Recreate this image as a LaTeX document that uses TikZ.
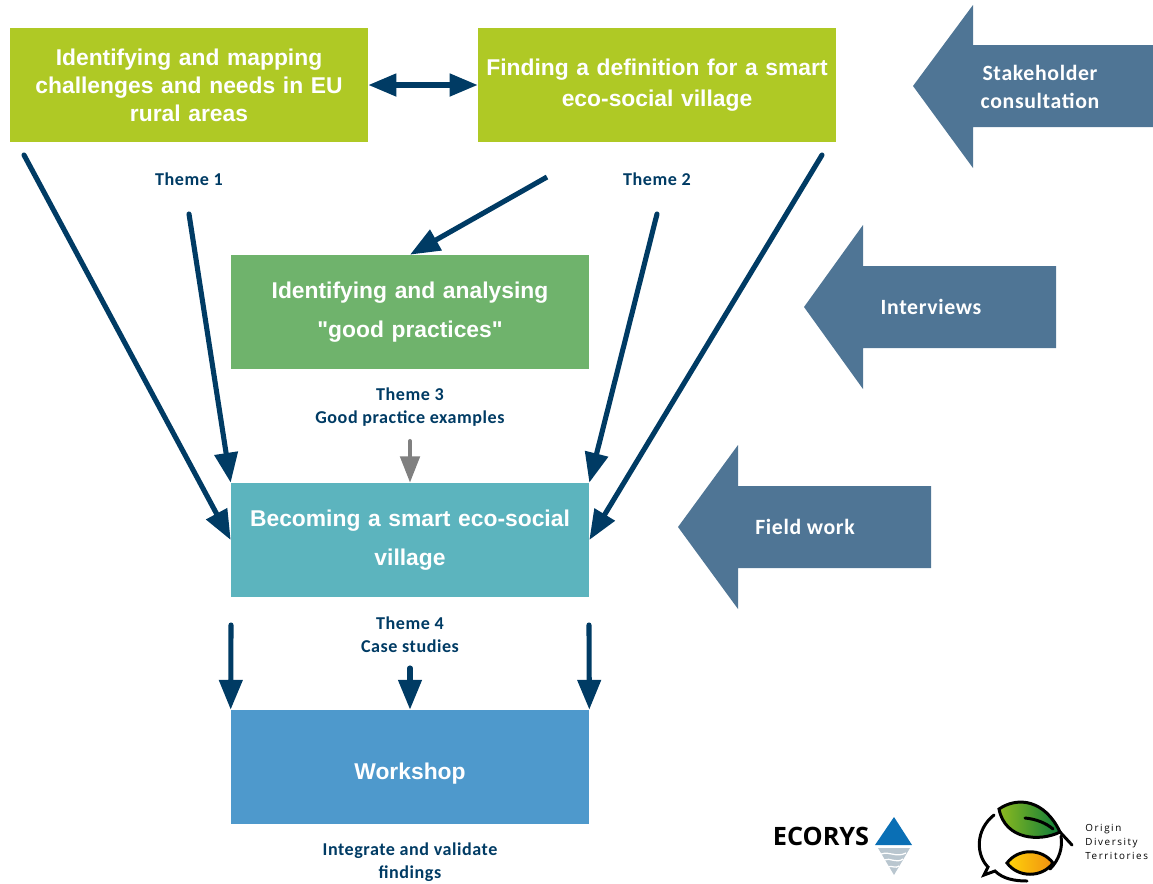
\documentclass[tikz,border=0pt]{standalone}
\usepackage{fontspec}
\newfontfamily\boxfont{Liberation Sans}
\newfontfamily\labelfont[LetterSpace=3]{Carlito}
\newfontfamily\logofont[LetterSpace=16]{Open Sans}
\newfontfamily\ecorysfont{Open Sans}
\usetikzlibrary{arrows.meta}

\definecolor{limebox}{HTML}{AFC925}
\definecolor{greenbox}{HTML}{6FB36C}
\definecolor{tealbox}{HTML}{5CB4BE}
\definecolor{bluebox}{HTML}{4E99CC}
\definecolor{slatearrow}{HTML}{4F7595}
\definecolor{navyline}{HTML}{003B64}
\definecolor{ecorysblue}{HTML}{0A6FB5}
\definecolor{ecorysgrey}{HTML}{B9C6CF}
\definecolor{leaflight}{HTML}{8DBB1F}
\definecolor{leafdark}{HTML}{0B7B3A}
\definecolor{fruitlight}{HTML}{FFD40A}
\definecolor{fruitdark}{HTML}{F09010}

\tikzset{
  themebox/.style={minimum width=7.16cm, minimum height=2.28cm, text width=6.9cm, align=center,
    text=white, font=\fontsize{13}{16}\selectfont\boxfont\bfseries},
  themelabel/.style={text=navyline, align=center, font=\fontsize{10.3}{13.2}\selectfont\labelfont\bfseries},
  slatelabel/.style={text=white, align=center, font=\fontsize{12.4}{16}\selectfont\labelfont\bfseries},
  link/.style={navyline, line width=2.9pt, line cap=round, -{Triangle[length=17pt,width=13pt]}},
  logoline/.style={black, line width=1.7pt, line cap=round},
}

\begin{document}
\begin{tikzpicture}[x=0.02cm, y=-0.02cm]
    \useasboundingbox (0,0) rectangle (1153,883);

    \node[themebox, fill=limebox] (mapping) at (189,85) {Identifying and mapping\\challenges and needs in EU\\rural areas};
    \node[themebox, fill=limebox, font=\fontsize{13}{18}\selectfont\boxfont\bfseries] (definition) at (657,85) {Finding a definition for a smart\\eco-social village};
    \node[themebox, fill=greenbox, font=\fontsize{13}{21.8}\selectfont\boxfont\bfseries] (practices) at (410,312) {Identifying and analysing\\"good practices"};
    \node[themebox, fill=tealbox, font=\fontsize{13}{21.8}\selectfont\boxfont\bfseries] (becoming) at (410,540) {Becoming a smart eco-social\\village};
    \node[themebox, fill=bluebox] (workshop) at (410,767) {\rule{0pt}{17pt}Workshop};

    \node[themelabel] (theme1) at (189,179) {Theme 1};
    \node[themelabel] (theme2) at (657,179) {Theme 2};
    \node[themelabel] (theme3) at (410,407) {Theme 3\\Good practice examples};
    \node[themelabel] (theme4) at (410,635) {Theme 4\\Case studies};
    \node[themelabel] (validate) at (410,862.5) {Integrate and validate\\findings};

    % free ends of the connectors
    \coordinate (mapfoot) at (24,155);
    \coordinate (themefoot1) at (189,214);
    \coordinate (deffoot) at (547,177);
    \coordinate (themefoot2) at (657,214);
    \coordinate (deffoot2) at (822,155);
    \coordinate (greyfoot) at (410,441);
    \coordinate (casefoot1) at (231,625);
    \coordinate (casefoot2) at (410,668);
    \coordinate (casefoot3) at (589,625);

    \draw[navyline, line width=2.9pt, {Triangle[length=16pt,width=12.5pt]}-{Triangle[length=16pt,width=12.5pt]}] (mapping.east) -- (definition.west);
    \draw[link] (mapfoot) -- (becoming.west);
    \draw[link] (themefoot1) -- (becoming.north west);
    \draw[link, line cap=butt] (deffoot) -- (practices.north);
    \draw[link] (themefoot2) -- (becoming.north east);
    \draw[link] (deffoot2) -- (becoming.east);
    \draw[gray, line width=2.3pt, line cap=round, -{Triangle[length=15pt,width=11pt]}] (greyfoot) -- (becoming.north);
    \draw[link] (casefoot1) -- (workshop.north west);
    \draw[link] (casefoot2) -- (workshop.north);
    \draw[link] (casefoot3) -- (workshop.north east);

    \fill[slatearrow] (913,86) -- (973,5) -- (973,45) -- (1153,45) -- (1153,127) -- (973,127) -- (973,168) -- cycle;
    \fill[slatearrow] (804,307) -- (863,225) -- (863,266) -- (1056,266) -- (1056,348) -- (863,348) -- (863,389) -- cycle;
    \fill[slatearrow] (678,527) -- (738,445) -- (738,486) -- (931,486) -- (931,568) -- (738,568) -- (738,609) -- cycle;
    \node[slatelabel] (stakeholder) at (1040,87) {Stakeholder\\consultation};
    \node[slatelabel] (interviews) at (931,307) {Interviews};
    \node[slatelabel] (fieldwork) at (805,527) {Field work};

    % Ecorys logo
    \node[inner sep=0pt, font=\fontsize{14.4}{14}\selectfont\ecorysfont\bfseries] (ecorys) at (821,836) {ECORYS};
    \fill[ecorysblue] (875,845) -- (894,817) -- (912,845) -- cycle;
    \fill[ecorysgrey] (878,848) -- (910,848) -- (894,875) -- cycle;
    \draw[white, line width=0.7pt] (881,854) .. controls (890,851) and (896,858) .. (906,853);
    \draw[white, line width=0.7pt] (884,860) .. controls (890,857) and (896,864) .. (903,859);
    \draw[white, line width=0.7pt] (888,867) .. controls (891,865) and (896,869) .. (899,866);

    % Origin logo
    \draw[logoline] (994,815) .. controls (975,830) and (976,855) .. (988,867)
      -- (984,875) -- (995,871) .. controls (1003,879) and (1015,881) .. (1027,881);
    \draw[logoline] (1061,836) .. controls (1063,848) and (1059,860) .. (1050,869);
    \draw[logoline, left color=leaflight, right color=leafdark] (999,809)
      .. controls (1018,796) and (1045,800) .. (1060,832) .. controls (1040,842) and (1005,840) .. (999,809) -- cycle;
    \draw[logoline] (1060,832) -- (1072,845);
    \draw[logoline] (1025,818) .. controls (1036,819) and (1046,823) .. (1053,829);
    \draw[logoline, left color=fruitlight, right color=fruitdark] (1007,863)
      .. controls (1018,848) and (1042,848) .. (1053,863) .. controls (1042,878) and (1018,878) .. (1007,863) -- cycle;
    \node[inner sep=0pt, anchor=west, align=left, font=\fontsize{5.6}{8}\selectfont\logofont] (origin) at (1085,842) {Origin\\Diversity\\Territories};
\end{tikzpicture}
\end{document}
